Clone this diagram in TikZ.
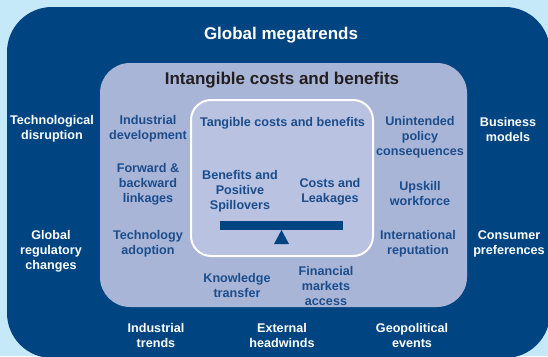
\documentclass[tikz,border=0pt]{standalone}
\usepackage{fontspec}
\setmainfont{Liberation Sans}
\definecolor{skyback}{RGB}{198,233,250}
\definecolor{megablue}{RGB}{0,69,130}
\definecolor{intanfill}{RGB}{169,181,214}
\definecolor{tanfill}{RGB}{185,194,224}
\definecolor{labelblue}{RGB}{27,77,140}
\definecolor{headgray}{RGB}{35,31,32}
\tikzset{
  trend/.style={text=white, font=\bfseries\fontsize{12.6}{15}\selectfont, align=center},
  factor/.style={text=labelblue, font=\bfseries\fontsize{12.6}{15}\selectfont, align=center},
  heading/.style={font=\bfseries\fontsize{17}{20}\selectfont}
}
\begin{document}
\begin{tikzpicture}[x=1pt, y=-1pt]
    \useasboundingbox (0,0) rectangle (548,356);
    \fill [skyback] (0,0) rectangle (548,356);
    \clip (0,0) rectangle (548,356);
    % the three boxes
    \fill [megablue, rounded corners=45] (7,7) rectangle (550,358);
    \fill [intanfill, rounded corners=30] (100,63) rectangle (467,307);
    \filldraw [fill=tanfill, draw=white, line width=2, rounded corners=20] (191,100) rectangle (373,256);
    % the balance
    \fill [megablue] (220,221) rectangle (343,230);
    \fill [megablue] (274,244) -- (289,244) -- (281.5,230) -- cycle;
    % headings
    \node [heading, text=white] (mega) at (281,35) {Global megatrends};
    \node [heading, text=headgray] (intan) at (282,80) {Intangible costs and benefits};
    \node [factor] (tan) at (282.5,123) {Tangible costs and benefits};
    \node [factor] (benefits) at (240,191) {Benefits and\\Positive\\Spillovers};
    \node [factor] (costs) at (330,191.5) {Costs and\\Leakages};
    % megatrends
    \node [trend] (techdis) at (52,129) {Technological\\disruption};
    \node [trend] (regul) at (51,251) {Global\\regulatory\\changes};
    \node [trend] (indtrends) at (156,335) {Industrial\\trends};
    \node [trend] (headwinds) at (282,335) {External\\headwinds};
    \node [trend] (geopol) at (412,335) {Geopolitical\\events};
    \node [trend] (business) at (508,129) {Business\\models};
    \node [trend] (consumer) at (509,244) {Consumer\\preferences};
    % intangible factors
    \node [factor] (inddev) at (148,129) {Industrial\\development};
    \node [factor] (linkages) at (148,184) {Forward \&\\backward\\linkages};
    \node [factor] (techadopt) at (148,244) {Technology\\adoption};
    \node [factor] (knowledge) at (237,285) {Knowledge\\transfer};
    \node [factor] (finance) at (326,286) {Financial\\markets\\access};
    \node [factor] (policy) at (420,137) {Unintended\\policy\\consequences};
    \node [factor] (upskill) at (420,193) {Upskill\\workforce};
    \node [factor] (reputation) at (418,244) {International\\reputation};
\end{tikzpicture}
\end{document}
